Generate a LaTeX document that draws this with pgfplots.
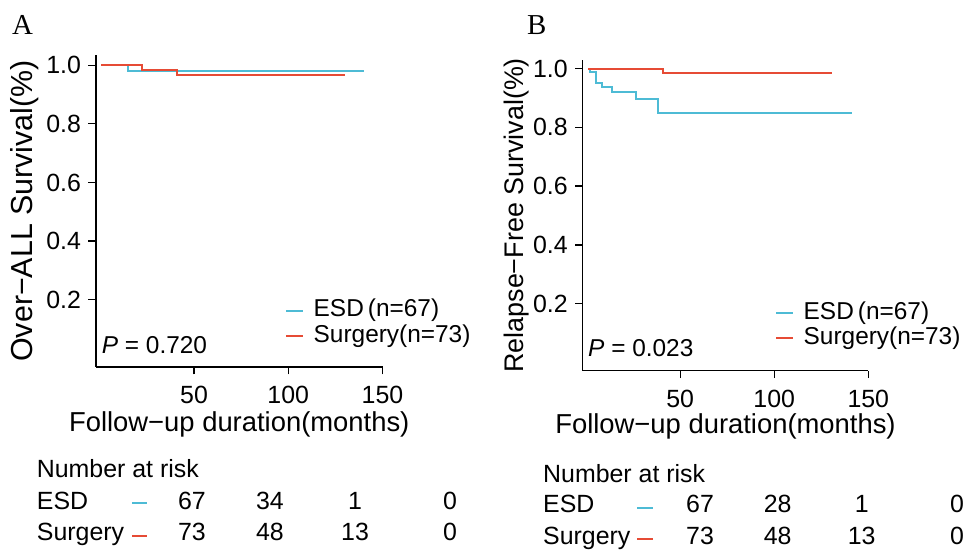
\documentclass[border=0pt]{standalone}
\usepackage{pgfplots}
\pgfplotsset{compat=1.18}
\usepackage{fontspec}
\setmainfont{Liberation Sans}
\newfontfamily\serifA{Liberation Serif}
\definecolor{esd}{HTML}{4DBBD5}
\definecolor{sur}{HTML}{E64B35}
\newcommand{\fs}[1]{\fontsize{#1}{#1}\selectfont}
\pgfplotsset{
 kmaxis/.style={
  scale only axis,
  axis x line*=bottom, axis y line*=left,
  axis line style={line width=1.3bp, -},
  tick align=outside,
  major tick length=7.5bp,
  tick style={line width=1.3bp, black},
  xtick={50,100,150}, ytick={0.2,0.4,0.6,0.8,1.0},
  xmax=150,
  /pgf/number format/assume math mode=true,
  ticklabel style={font=\fs{25}},
  xticklabel style={yshift=-8bp},
  yticklabel style={xshift=-4bp, /pgf/number format/.cd, fixed, fixed zerofill, precision=1},
  clip=false,
  legend image code/.code={\draw[#1] (0bp,0bp) -- (17bp,0bp);},
  legend style={draw=none, fill=none, inner sep=0pt, outer sep=0pt, anchor=north west,
    font=\fs{24.5}, nodes={inner sep=0pt, text height=17bp, text depth=5bp},
    row sep=3.3bp, column sep=9.7bp},
  legend cell align=left,
 },
 esdline/.style={esd, line width=2bp, const plot, no marks},
 surline/.style={sur, line width=2bp, const plot, no marks},
}
\begin{document}
\begin{tikzpicture}
\path[use as bounding box] (0,0) rectangle (964bp,555bp);

% ---------- Panel A ----------
\begin{axis}[kmaxis, at={(96bp,188bp)}, anchor=south west,
  width=286.5bp, height=312bp, xmin=-2, ymin=-0.03, ymax=1.035,
  xlabel={Follow−up duration(months)},
  ylabel={Over−ALL Survival(\%)},
  xlabel style={at={(axis description cs:0.5,-0.2083)}, anchor=base, font=\fs{27.5}},
  ylabel style={at={(axis description cs:-0.2199,0.5)}, anchor=base, font=\fs{30.5}},
  legend style={at={(axis description cs:0.6597,0.2157)}},
]
\addplot[esdline] coordinates {(1,1) (15.1,0.981) (140,0.981)};
\addlegendentry{ESD\,(n=67)}
\addplot[surline] coordinates {(0.9,1) (22.5,0.985) (40.8,0.967) (130.2,0.967)};
\addlegendentry{Surgery(n=73)}
\node[anchor=base west, font=\fs{24.5}, inner sep=0pt] at (axis description cs:0.0199,0.0417) {\textit{P} = 0.720};
\end{axis}

% ---------- Panel B ----------
\begin{axis}[kmaxis, at={(582.7bp,184.3bp)}, anchor=south west,
  width=285.6bp, height=310.7bp, xmin=-1.8, ymin=-0.028, ymax=1.029,
  xlabel={Follow−up duration(months)},
  ylabel={Relapse−Free Survival(\%)},
  xlabel style={at={(axis description cs:0.5,-0.2021)}, anchor=base, font=\fs{27.5}},
  ylabel style={at={(axis description cs:-0.209,0.5)}, anchor=base, font=\fs{27}},
  legend style={at={(axis description cs:0.6733,0.2211)}},
]
\addplot[esdline] coordinates {(1.2,1) (2.1,0.987) (5.2,0.951) (8.7,0.936) (13.6,0.920) (26.4,0.898) (38.1,0.850) (141.4,0.850)};
\addlegendentry{ESD\,(n=67)}
\addplot[surline] coordinates {(1.2,1) (41,0.984) (130.5,0.984)};
\addlegendentry{Surgery(n=73)}
\node[anchor=base west, font=\fs{24.5}, inner sep=0pt] at (axis description cs:0.0186,0.045) {\textit{P} = 0.023};
\end{axis}

% panel letters
\node[anchor=base west, inner sep=0pt, font=\serifA\fs{29}] at (12bp,520bp) {A};
\node[anchor=base west, inner sep=0pt, font=\serifA\fs{29}] at (527bp,520bp) {B};

% ---------- risk tables ----------
\begin{scope}[every node/.style={inner sep=0pt, font=\fs{25}}]
\node[anchor=base west] at (36.7bp,77bp) {Number at risk};
\node[anchor=base west] at (36.7bp,45bp) {ESD};
\node[anchor=base west] at (36.7bp,15bp) {Surgery};
\draw[esd, line width=2bp] (132bp,52bp) -- (147bp,52bp);
\draw[sur, line width=2bp] (132bp,19bp) -- (147bp,19bp);
\node[anchor=base] at (192bp,45bp) {67};
\node[anchor=base] at (270bp,45bp) {34};
\node[anchor=base] at (355bp,45bp) {1};
\node[anchor=base] at (450bp,45bp) {0};
\node[anchor=base] at (192bp,15bp) {73};
\node[anchor=base] at (270bp,15bp) {48};
\node[anchor=base] at (355bp,15bp) {13};
\node[anchor=base] at (450bp,15bp) {0};

\node[anchor=base west] at (543bp,72bp) {Number at risk};
\node[anchor=base west] at (543bp,42bp) {ESD};
\node[anchor=base west] at (543bp,11bp) {Surgery};
\draw[esd, line width=2bp] (637bp,47bp) -- (652.7bp,47bp);
\draw[sur, line width=2bp] (637bp,16bp) -- (652.7bp,16bp);
\node[anchor=base] at (700bp,42bp) {67};
\node[anchor=base] at (777.7bp,42bp) {28};
\node[anchor=base] at (861.7bp,42bp) {1};
\node[anchor=base] at (957bp,42bp) {0};
\node[anchor=base] at (700bp,11bp) {73};
\node[anchor=base] at (777.7bp,11bp) {48};
\node[anchor=base] at (861.7bp,11bp) {13};
\node[anchor=base] at (957bp,11bp) {0};
\end{scope}
\end{tikzpicture}
\end{document}
